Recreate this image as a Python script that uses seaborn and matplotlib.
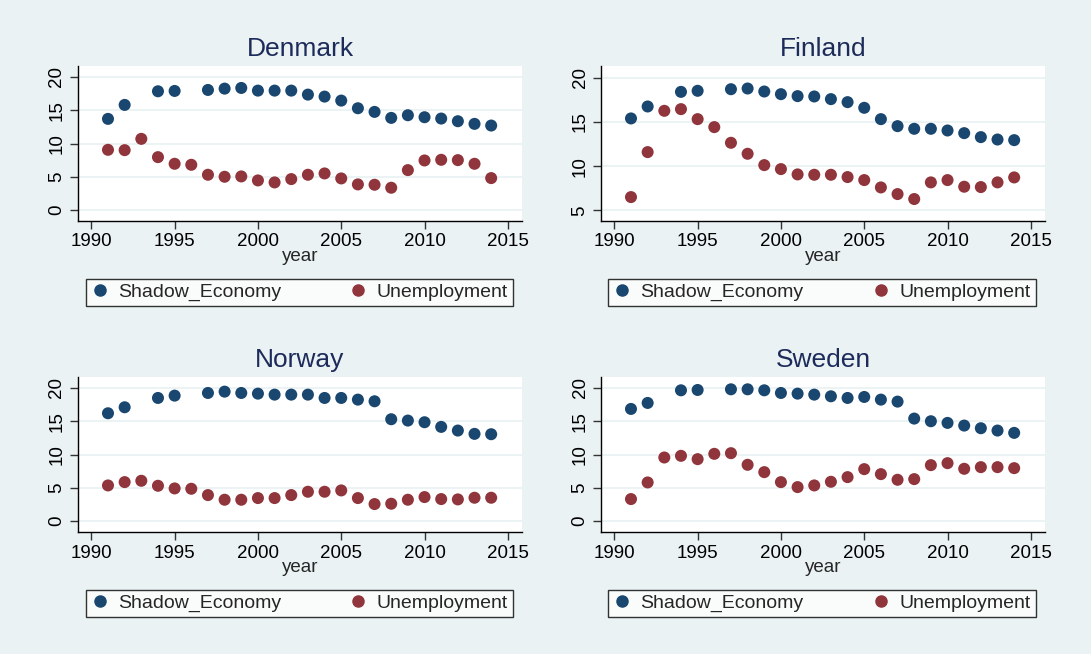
import numpy as np
import pandas as pd
import matplotlib
matplotlib.use("Agg")
import matplotlib.pyplot as plt
from matplotlib.lines import Line2D
import seaborn as sns

years = list(range(1991, 2015))
nan = np.nan

denmark_shadow = [13.7, 15.8, nan, 17.85, 17.9, nan, 18.05, 18.25, 18.35, 17.95, 17.95, 17.95,
                  17.35, 17.05, 16.45, 15.3, 14.75, 13.85, 14.25, 13.95, 13.75, 13.35, 12.95, 12.7]
denmark_unemp = [9.05, 9.0, 10.7, 7.95, 6.95, 6.8, 5.3, 5.0, 5.05, 4.45, 4.15, 4.65,
                 5.3, 5.5, 4.75, 3.85, 3.8, 3.35, 6.0, 7.45, 7.55, 7.5, 6.95, 4.8]

finland_shadow = [15.38, 16.73, nan, 18.38, 18.5, nan, 18.68, 18.76, 18.42, 18.12, 17.9, 17.86,
                  17.56, 17.22, 16.58, 15.3, 14.51, 14.21, 14.21, 14.02, 13.72, 13.27, 13.0, 12.93]
finland_unemp = [6.5, 11.58, 16.24, 16.43, 15.3, 14.4, 12.63, 11.39, 10.11, 9.66, 9.06, 9.02,
                 9.02, 8.76, 8.42, 7.59, 6.84, 6.28, 8.16, 8.42, 7.67, 7.63, 8.16, 8.72]

norway_shadow = [16.2, 17.1, nan, 18.5, 18.85, nan, 19.25, 19.45, 19.25, 19.15, 19.0, 19.0,
                 19.0, 18.5, 18.5, 18.25, 18.0, 15.3, 15.1, 14.85, 14.15, 13.6, 13.1, 13.05]
norway_unemp = [5.35, 5.85, 6.05, 5.3, 4.9, 4.85, 3.9, 3.2, 3.2, 3.45, 3.45, 3.9,
                4.4, 4.4, 4.6, 3.45, 2.55, 2.6, 3.2, 3.6, 3.3, 3.25, 3.5, 3.5]

sweden_shadow = [16.85, 17.75, nan, 19.65, 19.7, nan, 19.8, 19.8, 19.65, 19.25, 19.15, 19.0,
                 18.75, 18.5, 18.65, 18.25, 17.95, 15.4, 15.0, 14.75, 14.35, 13.95, 13.6, 13.25]
sweden_unemp = [3.3, 5.8, 9.55, 9.8, 9.3, 10.1, 10.2, 8.45, 7.35, 5.85, 5.1, 5.35,
                5.9, 6.6, 7.8, 7.05, 6.2, 6.3, 8.4, 8.7, 7.85, 8.1, 8.1, 7.95]

countries = ["Denmark", "Finland", "Norway", "Sweden"]
series_names = ["Shadow_Economy", "Unemployment"]
xticks = [1990, 1995, 2000, 2005, 2010, 2015]
yticks = {"Denmark": [0, 5, 10, 15, 20], "Finland": [5, 10, 15, 20],
          "Norway": [0, 5, 10, 15, 20], "Sweden": [0, 5, 10, 15, 20]}

data = {"Denmark": (denmark_shadow, denmark_unemp),
        "Finland": (finland_shadow, finland_unemp),
        "Norway": (norway_shadow, norway_unemp),
        "Sweden": (sweden_shadow, sweden_unemp)}

rows = []
for c in countries:
    s, u = data[c]
    for y, a, b in zip(years, s, u):
        rows.append({"country": c, "year": y, "series": series_names[0], "value": a})
        rows.append({"country": c, "year": y, "series": series_names[1], "value": b})
df = pd.DataFrame(rows).dropna()

BG = "#eaf2f3"
BLUE = "#1a476f"
RED = "#90353b"
TITLE_C = "#1c2b5a"
palette = {series_names[0]: BLUE, series_names[1]: RED}

sns.set_theme(style="white")
plt.rcParams["font.family"] = ["Liberation Sans", "DejaVu Sans"]

W, H = 1091, 654
fig = plt.figure(figsize=(W / 100, H / 100), dpi=100, facecolor=BG)

# pixel boxes: left, top, right, bottom
boxes = {"Denmark": (78, 66, 522, 221), "Finland": (601, 66, 1045, 221),
         "Norway": (78, 377, 522, 532), "Sweden": (601, 377, 1045, 532)}
legend_boxes = {"Denmark": (86, 278, 513, 307), "Finland": (608, 278, 1036, 307),
                "Norway": (86, 589, 513, 618), "Sweden": (608, 589, 1036, 618)}

for c in countries:
    l, t, r, b = boxes[c]
    ax = fig.add_axes([l / W, (H - b) / H, (r - l) / W, (b - t) / H])
    ax.set_facecolor("white")
    sub = df[df["country"] == c]
    sns.scatterplot(data=sub, x="year", y="value", hue="series", palette=palette,
                    s=75, linewidth=0, ax=ax, legend=False, zorder=3)
    yt = yticks[c]
    ax.set_xlim(1989.2, 2015.85)
    if c == "Finland":
        ax.set_ylim(3.8, 21.3)
    else:
        ax.set_ylim(-1.65, 21.65)
    ax.set_xticks(xticks)
    ax.set_yticks(yt)
    ax.set_yticklabels([str(v) for v in yt], rotation=90, va="center")
    ax.grid(axis="y", color=BG, linewidth=1.3, zorder=0)
    ax.grid(axis="x", visible=False)
    for sp in ["top", "right"]:
        ax.spines[sp].set_visible(False)
    for sp in ["left", "bottom"]:
        ax.spines[sp].set_color("black")
        ax.spines[sp].set_linewidth(1.0)
    ax.tick_params(axis="both", direction="out", length=6, width=1, color="#333333",
                   labelsize=13.5, labelcolor="black", left=True, bottom=True, pad=3)
    ax.set_xlabel("year", fontsize=13.5, labelpad=-2)
    ax.set_ylabel("")
    ax.set_title(c, fontsize=19, color=TITLE_C, pad=7)

    ll, lt, lr, lb = legend_boxes[c]
    handles = [Line2D([], [], marker="o", linestyle="", color=palette[n], markersize=8)
               for n in series_names]
    leg = fig.legend(handles, series_names, ncol=2,
                     bbox_to_anchor=(ll / W, (H - lb) / H, (lr - ll) / W, (lb - lt) / H),
                     loc="center", mode="expand", frameon=True, fancybox=False,
                     fontsize=14, handletextpad=0.5, borderpad=0.25, borderaxespad=0,
                     handlelength=0.9, edgecolor="black")
    leg.get_frame().set_linewidth(1.0)
    leg.get_frame().set_facecolor("white")

fig.savefig("out.png", dpi=100, facecolor=BG)
